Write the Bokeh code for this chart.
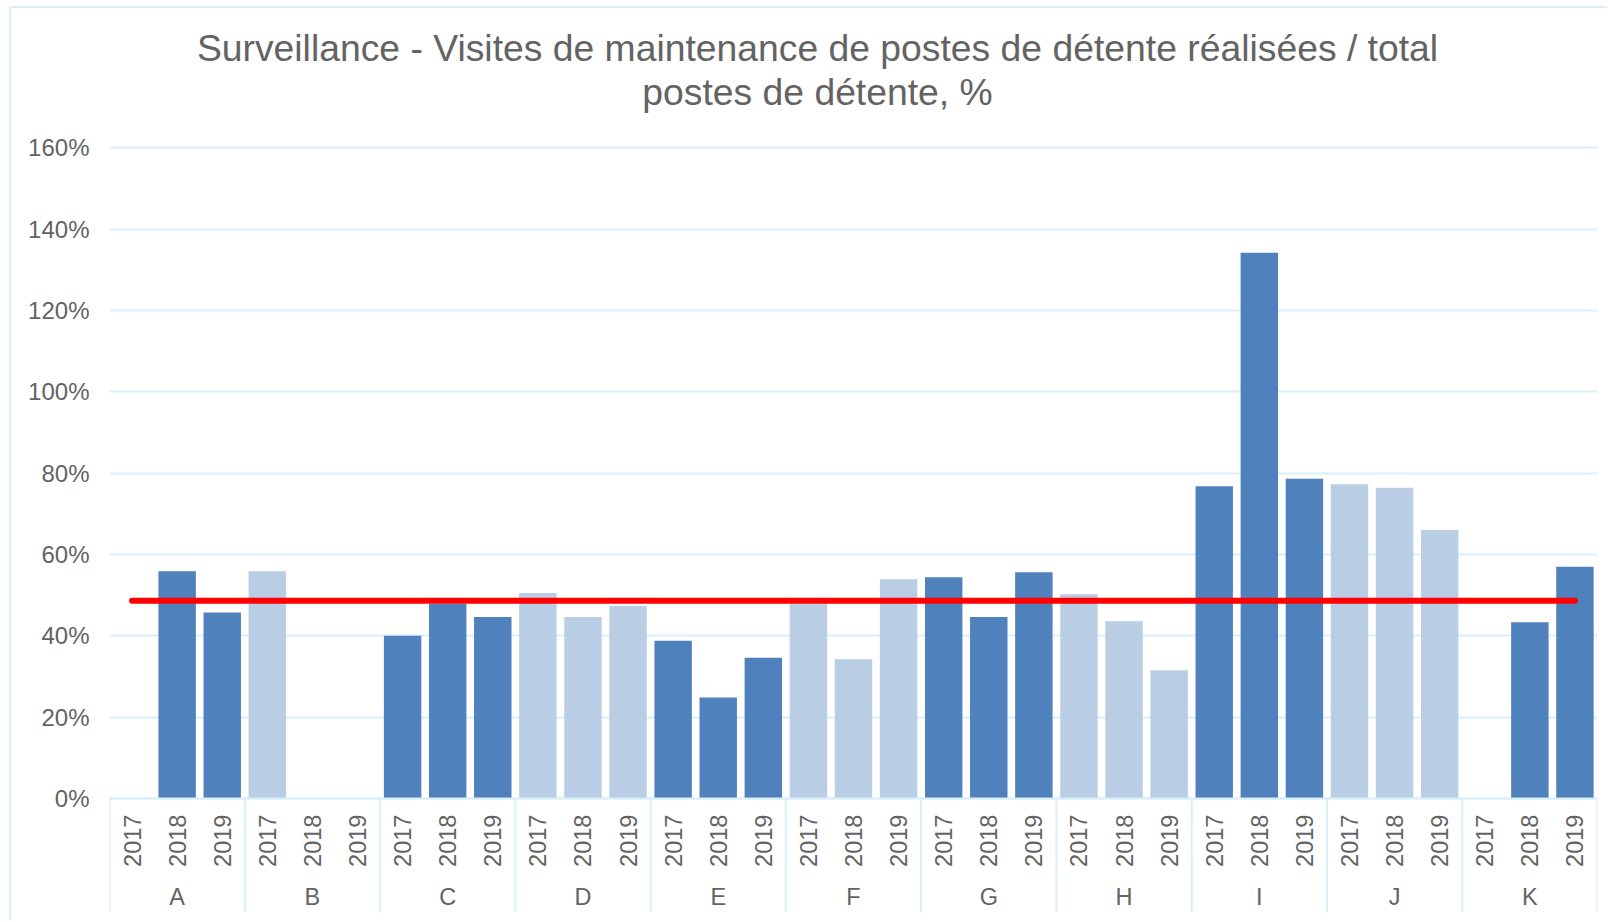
import math
from bokeh.plotting import figure
from bokeh.models import FactorRange, ColumnDataSource, FixedTicker, PrintfTickFormatter, Range1d
from bokeh.core.properties import value
from bokeh.embed import file_html
from bokeh.resources import INLINE

# ---------------- data ----------------
title_lines = ["Surveillance - Visites de maintenance de postes de détente réalisées / total",
               "postes de détente, %"]
groups = ["A", "B", "C", "D", "E", "F", "G", "H", "I", "J", "K"]
years = ["2017", "2018", "2019"]
nan = float("nan")
v2017 = [nan, 55.9, 40.0, 50.5, 38.8, 48.0, 54.4, 50.2, 76.8, 77.3, nan]
v2018 = [55.9, nan, 47.9, 44.6, 24.8, 34.2, 44.6, 43.6, 134.2, 76.4, 43.3]
v2019 = [45.7, nan, 44.6, 47.3, 34.6, 53.9, 55.6, 31.5, 78.6, 66.0, 57.0]
target = 48.6
y_ticks = [0, 20, 40, 60, 80, 100, 120, 140, 160]

# ---------------- styles ----------------
DARK = "#4F81BD"
LIGHT = "#B9CDE5"
GRID = "#d7f0fa"
TEXT = "#636363"
FONT = "Liberation Sans"

factors = [(g, y) for g in groups for y in years]
vals = []
cols = []
for gi, g in enumerate(groups):
    for series in (v2017, v2018, v2019):
        vals.append(series[gi])
        cols.append(DARK if gi % 2 == 0 else LIGHT)

bars = ColumnDataSource(dict(x=factors, top=vals, color=cols))

Y0, Y1 = -28.07, 194.3

p = figure(width=1598, height=914, output_backend="svg", toolbar_location=None,
           x_range=FactorRange(*factors, range_padding=0, group_padding=0,
                               subgroup_padding=0, factor_padding=0),
           y_range=Range1d(Y0, Y1),
           min_border_left=98, min_border_right=12, min_border_top=0, min_border_bottom=10)
p.styles = {"margin-left": "9px", "margin-top": "6px",
            "border-left": "2px solid " + GRID, "border-top": "2px solid " + GRID}
p.outline_line_color = None
p.background_fill_color = "white"
p.border_fill_color = "white"

p.xaxis.visible = False
p.xgrid.visible = False
p.yaxis.ticker = FixedTicker(ticks=y_ticks)
p.yaxis.formatter = PrintfTickFormatter(format="%d%%")
p.yaxis.axis_line_color = None
p.yaxis.major_tick_line_color = None
p.yaxis.minor_tick_line_color = None
p.yaxis.major_tick_out = 0
p.yaxis.major_tick_in = 0
p.yaxis.major_label_standoff = 20
p.yaxis.major_label_text_font = FONT
p.yaxis.major_label_text_font_size = "24px"
p.yaxis.major_label_text_color = TEXT
p.ygrid.grid_line_color = GRID
p.ygrid.grid_line_width = 2

# bars
p.vbar(x="x", top="top", bottom=0, width=0.83, source=bars,
       fill_color="color", line_color=None)

# target line
p.line(x=factors, y=[target] * len(factors), line_color="#FF0000", line_width=6,
       line_cap="round")

# category axis drawn in frame
sep_x = [(g, years[0], -0.5) for g in groups] + [(groups[-1], years[-1], 0.5)]
p.segment(x0=sep_x, y0=[0] * len(sep_x), x1=sep_x, y1=[Y0] * len(sep_x),
          line_color=GRID, line_width=2)
p.segment(x0=[sep_x[0]], y0=[0], x1=[sep_x[-1]], y1=[0], line_color=GRID, line_width=2)

p.text(x=factors, y=[-10.43] * len(factors), text=[f[1] for f in factors],
       angle=math.pi / 2, text_align="center", text_baseline="middle",
       text_font=value(FONT), text_font_size=value("23.5px"), text_color=TEXT)
p.text(x=[(g, years[1]) for g in groups], y=[-24.3] * len(groups), text=groups,
       text_align="center", text_baseline="middle",
       text_font=value(FONT), text_font_size=value("23.5px"), text_color=TEXT)

# title
p.text(x=[(groups[5], years[1])] * 2, y=[184.7, 173.8], text=title_lines,
       x_offset=-36, text_align="center", text_baseline="middle",
       text_font=value(FONT), text_font_size=value("37.3px"), text_color=TEXT)

open("out.html", "w").write(file_html(p, INLINE))
